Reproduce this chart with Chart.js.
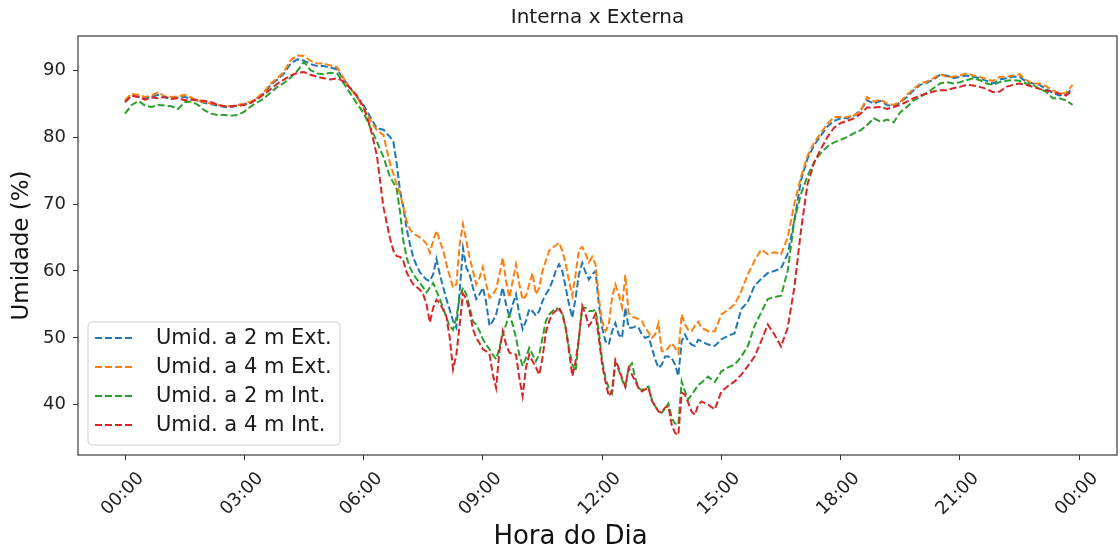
<!DOCTYPE html>
<html>
<head>
<meta charset="utf-8">
<script src="https://cdn.jsdelivr.net/npm/chart.js@4.4.1/dist/chart.umd.min.js"></script>
<style>
  html, body { margin: 0; padding: 0; background: #fff; }
  #wrap { width: 1120px; height: 552px; }
</style>
</head>
<body>
<div id="wrap"><canvas id="umidChart" width="1120" height="552"></canvas></div>
<script>
// minutes since 00:00 (10 min steps, 5 min in the noisy middle part)
const minutes = [
  0, 10, 20, 30, 40, 50, 60, 70, 80, 90, 100, 110, 120, 130, 140, 150, 160, 170, 180, 190,
  200, 210, 220, 230, 240, 250, 260, 270, 280, 290, 300, 310, 320, 330, 340, 350, 360, 370, 380, 390,
  400, 405, 410, 415, 420, 425, 430, 435, 440, 445, 450, 455, 460, 465, 470, 475, 480, 485, 490, 495,
  500, 505, 510, 515, 520, 525, 530, 535, 540, 545, 550, 555, 560, 565, 570, 575, 580, 585, 590, 595,
  600, 605, 610, 615, 620, 625, 630, 635, 640, 645, 650, 655, 660, 665, 670, 675, 680, 685, 690, 695,
  700, 705, 710, 715, 720, 725, 730, 735, 740, 745, 750, 755, 760, 765, 770, 775, 780, 785, 790, 795,
  800, 805, 810, 815, 820, 825, 830, 835, 840, 845, 850, 855, 860, 865, 870,
  880, 890, 900, 910, 920, 930, 940, 950, 960, 970, 980, 990, 1000, 1010, 1020, 1030, 1040, 1050, 1060, 1070,
  1080, 1090, 1100, 1110, 1120, 1130, 1140, 1150, 1160, 1170, 1180, 1190, 1200, 1210, 1220, 1230, 1240, 1250, 1260, 1270,
  1280, 1290, 1300, 1310, 1320, 1330, 1340, 1350, 1360, 1370, 1380, 1390, 1400, 1410, 1420, 1430
];

const umid2Ext = [
  85.3, 86.2, 86.0, 85.8, 86.0, 86.3, 85.9, 85.8, 85.9, 86.0, 85.7, 85.4, 85.1, 84.9, 84.7, 84.5, 84.5, 84.7, 84.9, 85.2,
  85.8, 86.6, 87.8, 88.6, 89.5, 91.0, 91.6, 91.4, 90.9, 90.6, 90.6, 90.4, 90.1, 88.6, 87.3, 86.0, 84.8, 83.0, 81.3, 81.1,
  80.0, 79.3, 76.0, 72.0, 69.5, 66.3, 64.0, 62.0, 60.8, 59.8, 59.2, 58.7, 58.5, 59.5, 61.8, 59.5, 57.6, 55.8, 54.2, 52.5,
  51.5, 57.0, 63.4, 60.5, 59.5, 57.5, 55.8, 56.5, 57.5, 55.3, 51.8, 52.5, 53.5, 55.5, 57.5, 55.0, 53.2, 55.0, 56.5, 53.5,
  51.3, 52.5, 54.3, 54.0, 53.3, 54.0, 55.5, 56.5, 57.3, 58.5, 60.0, 61.0, 60.0, 57.5, 55.0, 53.0, 56.0, 59.5, 61.2, 59.8,
  58.7, 59.5, 60.0, 55.0, 51.5, 49.5, 49.0, 51.0, 52.2, 50.5, 50.0, 54.5, 51.5, 51.5, 51.7, 51.5, 50.5, 50.0, 50.2, 48.5,
  46.8, 45.5, 46.0, 47.2, 47.2, 47.0, 46.0, 44.3, 49.5, 50.5, 49.5, 49.0, 48.8, 49.7, 49.5,
  49.0, 48.8, 49.8, 50.3, 50.7, 54.3, 55.4, 57.8, 58.8, 59.7, 60.0, 60.4, 62.5, 67.5, 73.5, 76.8, 78.8, 80.2, 81.6, 82.4,
  82.8, 82.8, 83.2, 84.0, 85.5, 85.0, 85.4, 84.8, 84.6, 85.2, 86.0, 87.0, 87.8, 88.1, 88.6, 89.3, 89.2, 88.8, 89.0, 89.2,
  89.0, 88.8, 88.4, 88.0, 88.6, 88.8, 89.0, 89.0, 88.3, 88.0, 87.8, 87.2, 86.6, 86.2, 86.4, 87.2
];

const umid4Ext = [
  85.5, 86.5, 86.3, 86.0, 86.2, 86.7, 86.1, 86.0, 86.1, 86.3, 85.9, 85.5, 85.2, 85.0, 84.8, 84.6, 84.6, 84.8, 85.0, 85.3,
  85.9, 86.8, 88.0, 88.8, 89.8, 91.5, 92.2, 92.1, 91.4, 91.0, 91.0, 90.7, 90.4, 88.8, 87.2, 86.0, 84.3, 82.5, 81.0, 80.3,
  76.0, 74.5, 73.0, 71.5, 69.6, 67.5, 66.2, 65.6, 65.3, 65.0, 64.6, 64.0, 62.7, 64.5, 66.0, 64.5, 63.1, 61.0, 59.2, 57.5,
  58.0, 64.0, 67.0, 64.5, 62.0, 60.0, 58.0, 59.0, 60.6, 58.0, 56.0, 56.5, 57.3, 59.5, 62.0, 58.5, 56.0, 58.5, 61.0, 58.0,
  55.7, 56.3, 58.0, 59.7, 56.5, 57.5, 60.0, 61.5, 63.0, 63.5, 63.8, 64.2, 63.0, 61.0, 58.5, 56.3, 59.5, 63.2, 63.6, 62.5,
  61.3, 62.1, 61.0, 56.0, 52.5, 51.0, 52.0, 56.0, 58.0, 56.5, 54.6, 59.4, 53.7, 53.2, 53.0, 52.8, 52.5, 51.5, 50.8, 50.0,
  50.5, 52.2, 48.0, 48.0, 48.5, 49.2, 48.5, 47.7, 53.5, 52.0, 51.2, 51.0, 51.8, 52.4, 51.5,
  51.0, 51.0, 53.5, 54.2, 55.0, 57.0, 59.5, 61.5, 63.2, 62.5, 62.8, 62.5, 65.0, 70.0, 74.0, 77.2, 79.2, 80.6, 82.0, 83.0,
  83.0, 83.0, 83.2, 83.8, 86.0, 85.3, 85.6, 85.0, 84.8, 85.3, 86.3, 87.2, 88.0, 88.3, 88.8, 89.4, 89.0, 89.0, 89.2, 89.5,
  89.2, 89.0, 88.6, 88.4, 89.0, 89.0, 89.2, 89.4, 88.5, 88.0, 88.0, 87.6, 87.0, 86.5, 86.6, 87.8
];

const umid2Int = [
  83.5, 84.8, 85.4, 84.7, 84.5, 84.8, 84.7, 84.6, 84.2, 85.2, 85.3, 84.8, 84.0, 83.5, 83.3, 83.3, 83.2, 83.3, 83.8, 84.6,
  85.2, 85.8, 86.7, 87.5, 88.1, 88.9, 89.9, 91.2, 90.0, 89.5, 89.4, 89.6, 89.5, 88.0, 86.5, 85.0, 83.6, 81.5, 79.3, 77.0,
  74.0, 73.2, 72.2, 68.8, 64.5, 62.0, 60.5, 59.5, 58.8, 58.2, 57.5, 56.8, 57.5, 58.2, 57.0, 55.8, 54.5, 53.0, 51.8, 51.2,
  53.0, 56.0, 57.5, 56.5, 54.6, 52.5, 52.0, 51.0, 49.8, 49.0, 48.3, 47.5, 46.8, 48.5, 50.5, 52.0, 53.5, 52.0, 50.0, 47.5,
  45.8, 47.0, 48.5, 47.5, 46.5, 47.5, 50.0, 52.5, 53.5, 54.0, 54.5, 54.2, 53.8, 51.5, 48.5, 46.0, 45.0, 50.0, 54.5, 54.5,
  54.0, 54.0, 54.2, 51.0, 46.7, 44.0, 42.5, 41.7, 46.3, 45.2, 43.8, 42.7, 45.5, 46.2, 44.0, 42.5, 42.2, 42.5, 42.7, 40.8,
  39.8, 39.0, 38.8, 39.5, 40.2, 38.0, 37.2, 37.0, 43.5, 42.0, 40.8, 41.5, 42.2, 43.0, 43.3,
  44.2, 43.4, 45.0, 45.6, 46.0, 47.2, 48.8, 51.8, 53.8, 55.8, 56.1, 56.3, 60.0, 67.5, 71.5, 74.2, 76.3, 77.6, 78.6, 79.2,
  79.6, 80.0, 80.6, 81.0, 81.8, 82.8, 82.3, 82.6, 82.2, 83.7, 84.5, 85.5, 86.0, 86.6, 87.3, 88.0, 88.2, 88.0, 88.2, 88.5,
  88.8, 88.5, 88.0, 87.8, 88.2, 88.4, 88.5, 88.4, 88.0, 87.8, 87.2, 86.8, 85.8, 85.8, 85.5, 84.8
];

const umid4Int = [
  85.2, 86.2, 86.0, 85.6, 85.9, 85.8, 86.0, 85.7, 85.8, 85.5, 85.6, 85.5, 85.4, 85.2, 84.8, 84.6, 84.6, 84.7, 84.8, 85.1,
  85.7, 86.4, 87.2, 88.0, 88.6, 89.2, 89.6, 89.7, 89.3, 89.0, 88.8, 88.6, 88.8, 88.3, 87.3, 86.2, 84.5, 81.5, 77.3, 69.5,
  64.8, 63.0, 62.2, 62.1, 61.5, 59.8, 58.8, 58.0, 57.6, 57.2, 56.5, 55.0, 52.3, 54.5, 55.7, 55.2, 54.2, 53.2, 50.0, 45.3,
  47.5, 52.0, 56.6, 55.8, 54.0, 51.3, 50.0, 49.2, 48.3, 48.0, 47.6, 44.5, 42.5, 48.0, 51.0, 49.0, 47.8, 47.6, 47.5, 44.0,
  41.3, 45.5, 47.5, 46.5, 45.6, 44.5, 47.0, 50.8, 52.5, 53.6, 54.0, 54.5, 53.5, 51.5, 48.0, 44.3, 46.5, 50.0, 54.8, 53.5,
  51.8, 52.5, 53.6, 50.0, 46.0, 43.5, 41.3, 42.0, 46.7, 45.5, 44.0, 42.7, 45.5, 44.5, 43.5, 42.5, 42.0, 42.3, 42.5, 40.6,
  39.8, 39.0, 38.9, 39.6, 39.8, 37.0, 35.8, 35.5, 41.8, 41.5, 40.3, 39.0, 38.5, 40.0, 40.5,
  40.0, 39.3, 42.0, 42.8, 43.5, 44.5, 45.8, 47.2, 49.5, 52.0, 50.5, 48.7, 51.5, 57.5, 66.0, 73.0, 76.2, 78.2, 80.0, 81.4,
  82.1, 82.4, 82.8, 83.5, 84.4, 84.4, 84.5, 84.2, 84.5, 84.8, 85.3, 85.8, 86.2, 86.5, 86.8, 87.0, 87.0, 87.3, 87.5, 87.8,
  87.7, 87.5, 87.2, 86.7, 86.8, 87.5, 87.8, 88.0, 87.8, 87.5, 87.2, 87.0, 86.7, 86.5, 86.2, 87.0
];

const seriesNames = ['Umid. a 2 m Ext.', 'Umid. a 4 m Ext.', 'Umid. a 2 m Int.', 'Umid. a 4 m Int.'];
const seriesColors = ['#1f77b4', '#ff7f0e', '#2ca02c', '#d62728'];

const tickMinutes = [0, 180, 360, 540, 720, 900, 1080, 1260, 1440];
const tickLabels = ['00:00', '03:00', '06:00', '09:00', '12:00', '15:00', '18:00', '21:00', '00:00'];
const yTicks = [40, 50, 60, 70, 80, 90];
const xTitle = 'Hora do Dia';

Chart.defaults.font.family = "'DejaVu Sans', sans-serif";
Chart.defaults.color = '#1a1a1a';

function makeSet(i, values) {
  return {
    label: seriesNames[i],
    data: minutes.map((m, k) => ({ x: m, y: values[k] })),
    borderColor: seriesColors[i],
    backgroundColor: seriesColors[i],
    borderWidth: 2,
    borderDash: [7, 3],
    pointRadius: 0,
    tension: 0,
    fill: false,
    order: 4 - i
  };
}

// matplotlib style frame around the plot + x axis label (sits a bit left of centre in the original)
const frame = {
  id: 'frame',
  afterDatasetsDraw(chart) {
    const { ctx, chartArea: a } = chart;
    ctx.save();
    ctx.strokeStyle = '#3a3a3a';
    ctx.lineWidth = 1.2;
    ctx.strokeRect(a.left, a.top, a.right - a.left, a.bottom - a.top);
    ctx.font = "26px 'DejaVu Sans'";
    ctx.fillStyle = '#111';
    ctx.textAlign = 'center';
    ctx.textBaseline = 'middle';
    ctx.fillText(xTitle, (a.left + a.right) / 2 - 27, 537);
    ctx.restore();
  }
};

// legend box inside the plot, lower left
const legendInside = {
  id: 'legendInside',
  afterDraw(chart) {
    const { ctx, chartArea } = chart;
    const sets = chart.data.datasets;
    const boxW = 252, boxH = 123, rowH = 29;
    const boxX = chartArea.left + 10;
    const boxY = chartArea.bottom - 10 - boxH;
    ctx.save();
    ctx.beginPath();
    ctx.roundRect(boxX, boxY, boxW, boxH, 4);
    ctx.fillStyle = 'rgba(255,255,255,0.8)';
    ctx.fill();
    ctx.strokeStyle = '#d0d0d0';
    ctx.lineWidth = 1;
    ctx.stroke();
    ctx.font = "21px 'DejaVu Sans'";
    ctx.textBaseline = 'middle';
    sets.forEach((ds, i) => {
      const y = boxY + 16 + i * rowH;
      ctx.beginPath();
      ctx.setLineDash(ds.borderDash);
      ctx.strokeStyle = ds.borderColor;
      ctx.lineWidth = ds.borderWidth;
      ctx.moveTo(boxX + 7, y);
      ctx.lineTo(boxX + 47, y);
      ctx.stroke();
      ctx.setLineDash([]);
      ctx.fillStyle = '#1a1a1a';
      ctx.fillText(ds.label, boxX + 68, y + 1);
    });
    ctx.restore();
  }
};

new Chart(document.getElementById('umidChart').getContext('2d'), {
  type: 'line',
  data: {
    datasets: [
      makeSet(0, umid2Ext),
      makeSet(1, umid4Ext),
      makeSet(2, umid2Int),
      makeSet(3, umid4Int)
    ]
  },
  options: {
    responsive: false,
    animation: false,
    devicePixelRatio: 1,
    layout: { padding: { top: 0, right: 3, bottom: 0, left: 0 } },
    plugins: {
      legend: { display: false },
      tooltip: { enabled: false },
      title: {
        display: true,
        fullSize: false,
        text: 'Interna x Externa',
        font: { size: 20, weight: 'normal' },
        color: '#1a1a1a',
        padding: { top: 6, bottom: 6 }
      }
    },
    scales: {
      x: {
        type: 'linear',
        min: -71,
        max: 1497,
        afterBuildTicks: s => { s.ticks = tickMinutes.map(v => ({ value: v })); },
        afterFit: s => { s.height = 97; },
        ticks: {
          autoSkip: false,
          minRotation: 45,
          maxRotation: 45,
          labelOffset: 16,
          padding: 8,
          font: { size: 18 },
          color: '#222',
          callback: (v, i) => tickLabels[i]
        },
        grid: { drawOnChartArea: false, drawTicks: true, tickLength: 5, color: '#333' },
        border: { display: false },
        title: { display: false }
      },
      y: {
        min: 32.5,
        max: 95.1,
        afterBuildTicks: s => { s.ticks = yTicks.map(v => ({ value: v })); },
        afterFit: s => { s.width = 78; },
        ticks: { font: { size: 18 }, color: '#222', padding: 7 },
        grid: { drawOnChartArea: false, drawTicks: true, tickLength: 5, color: '#333' },
        border: { display: false },
        title: {
          display: true,
          text: 'Umidade (%)',
          font: { size: 23 },
          color: '#111',
          padding: { top: 8, bottom: 0 }
        }
      }
    }
  },
  plugins: [frame, legendInside]
});
</script>
</body>
</html>
